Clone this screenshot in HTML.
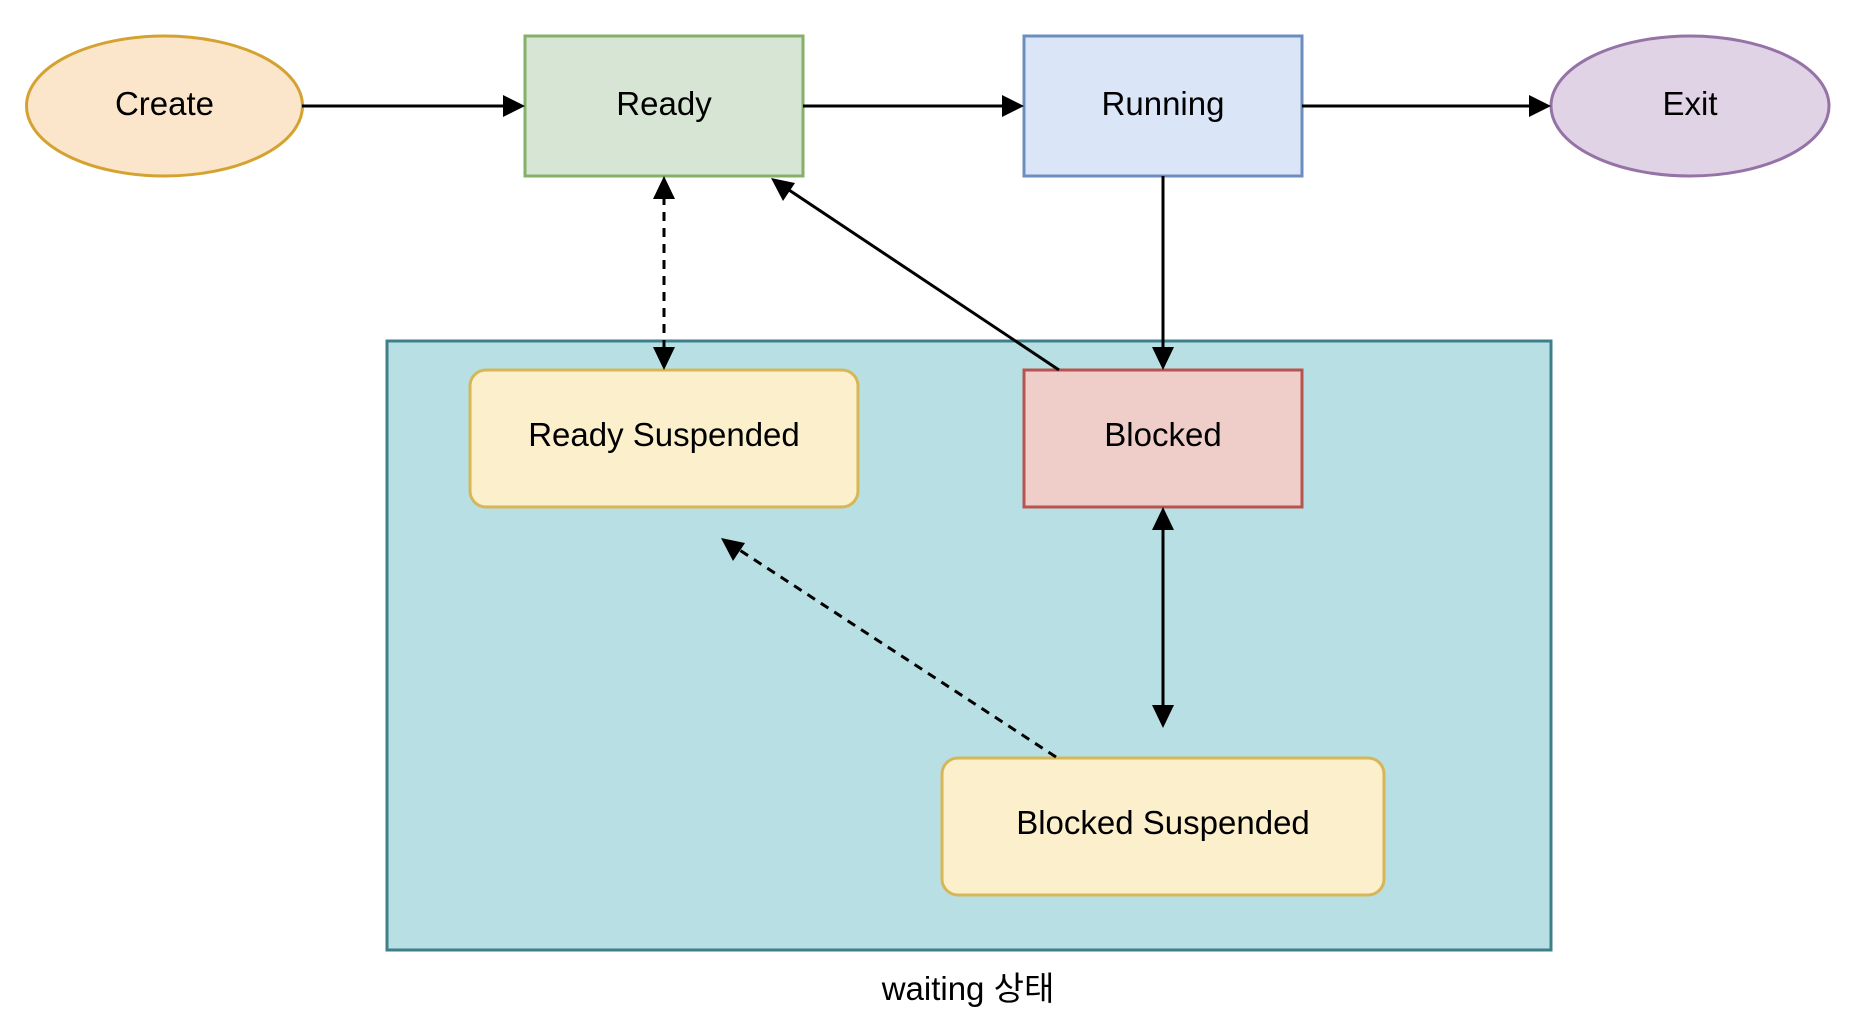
<!DOCTYPE html>
<html><head><meta charset="utf-8"><style>
html,body{margin:0;padding:0;background:#fff;}
svg{display:block;}
text{font-family:"Liberation Sans","Noto Sans CJK KR",sans-serif;font-size:33px;fill:#000;}
</style></head><body>
<svg width="1856" height="1036" viewBox="0 0 1856 1036" xmlns="http://www.w3.org/2000/svg">
<rect x="387" y="341" width="1164" height="609" fill="#b8e0e4" stroke="#3e7f89" stroke-width="3"/>
<ellipse cx="164.5" cy="106" rx="138" ry="70" fill="#fbe6cc" stroke="#d5a232" stroke-width="3"/>
<text x="164.5" y="115" text-anchor="middle">Create</text>
<rect x="525" y="36" width="278" height="140" fill="#d6e5d4" stroke="#86b06a" stroke-width="3"/>
<text x="664" y="115" text-anchor="middle">Ready</text>
<rect x="1024" y="36" width="278" height="140" fill="#dae6f7" stroke="#6c8ebf" stroke-width="3"/>
<text x="1163" y="115" text-anchor="middle">Running</text>
<ellipse cx="1690" cy="106" rx="139" ry="70" fill="#e0d3e6" stroke="#9673a6" stroke-width="3"/>
<text x="1690" y="115" text-anchor="middle">Exit</text>
<rect x="470" y="370" width="388" height="137" rx="16" fill="#fcefcc" stroke="#d6b656" stroke-width="3"/>
<text x="664" y="446" text-anchor="middle">Ready Suspended</text>
<rect x="1024" y="370" width="278" height="137" fill="#efcdc9" stroke="#b85450" stroke-width="3"/>
<text x="1163" y="446" text-anchor="middle">Blocked</text>
<rect x="942" y="758" width="442" height="137" rx="16" fill="#fcefcc" stroke="#d6b656" stroke-width="3"/>
<text x="1163" y="834" text-anchor="middle">Blocked Suspended</text>
<text x="968" y="1000" text-anchor="middle">waiting 상태</text>
<g stroke="#000" stroke-width="3" fill="none">
<line x1="302" y1="106" x2="505" y2="106"/>
<line x1="803" y1="106" x2="1004" y2="106"/>
<line x1="1302" y1="106" x2="1531" y2="106"/>
<line x1="664" y1="196" x2="664" y2="350" stroke-dasharray="9,7"/>
<line x1="1059" y1="370" x2="786" y2="188"/>
<line x1="1163" y1="176" x2="1163" y2="350"/>
<line x1="1163" y1="527" x2="1163" y2="707"/>
<line x1="1056" y1="757" x2="738" y2="549" stroke-dasharray="9,7"/>
</g>
<g fill="#000">
<polygon points="525,106 503,95 503,117"/>
<polygon points="1024,106 1002,95 1002,117"/>
<polygon points="1551,106 1529,95 1529,117"/>
<polygon points="664,176 653,199 675,199"/>
<polygon points="664,370 653,347 675,347"/>
<polygon points="771,178 783,201 795,183"/>
<polygon points="1163,370 1152,347 1174,347"/>
<polygon points="1163,507 1152,530 1174,530"/>
<polygon points="1163,728 1152,705 1174,705"/>
<polygon points="721,538 733,561 745,543"/>
</g>
</svg>
</body></html>
